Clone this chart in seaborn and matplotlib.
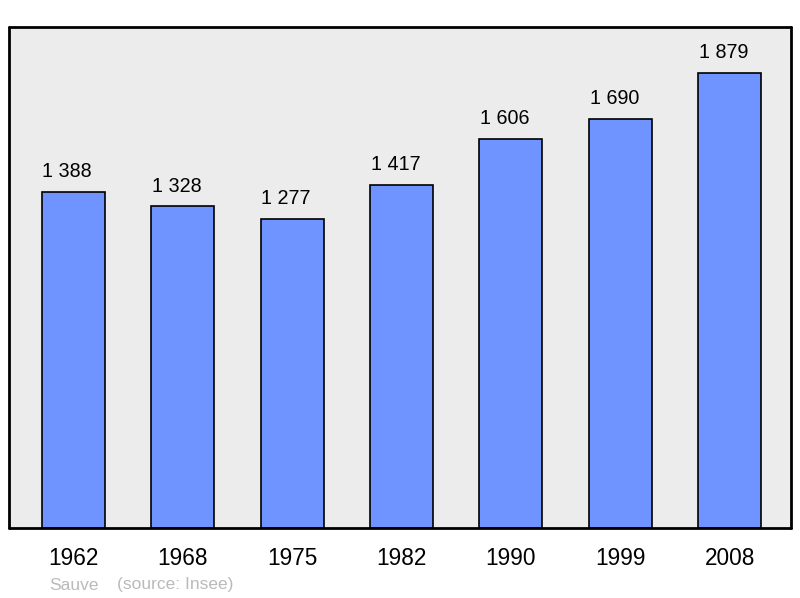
# Population of Sauve - bar chart
import seaborn as sns
import matplotlib.pyplot as plt
import pandas as pd

# Data
years = ['1962', '1968', '1975', '1982', '1990', '1999', '2008']
population = [1388, 1328, 1277, 1417, 1606, 1690, 1879]

commune = 'Sauve'
source = '(source: Insee)'

data = pd.DataFrame({'year': years, 'population': population})

sns.set_style("white")
plt.rcParams['font.family'] = ['Liberation Sans', 'DejaVu Sans']

fig = plt.figure(figsize=(8, 5.98), dpi=100)
ax = fig.add_axes([9/800, 70/598, 782/800, 501/598])

sns.barplot(
    data=data,
    x='year',
    y='population',
    color='#7094ff',
    saturation=1,
    width=0.576,
    edgecolor='black',
    linewidth=1.2,
    ax=ax
)

# Value labels above each bar, with a space as thousands separator
for i, v in enumerate(population):
    ax.annotate(f"{v:,}".replace(',', ' '), xy=(i, v), xytext=(-4.3, 14.6),
                textcoords='offset points', ha='center', va='center',
                fontsize=14.2, color='black')

ax.set_facecolor('#ececec')
ax.set_xlim(-0.587, 6.561)
ax.set_ylim(0, 2069)
ax.set_yticks([])
ax.set_xlabel('')
ax.set_ylabel('')
ax.tick_params(axis='x', length=0, pad=14, labelsize=16.3, labelcolor='black')

for spine in ax.spines.values():
    spine.set_visible(True)
    spine.set_color('black')
    spine.set_linewidth(2)
    spine.set_capstyle('round')

fig.text(49/800, 1 - 585/598, commune, color='#bababa', fontsize=12.5, va='center')
fig.text(117/800, 1 - 585/598, source, color='#bababa', fontsize=12.5, va='center')

plt.savefig('out.png', dpi=100)
plt.close()
